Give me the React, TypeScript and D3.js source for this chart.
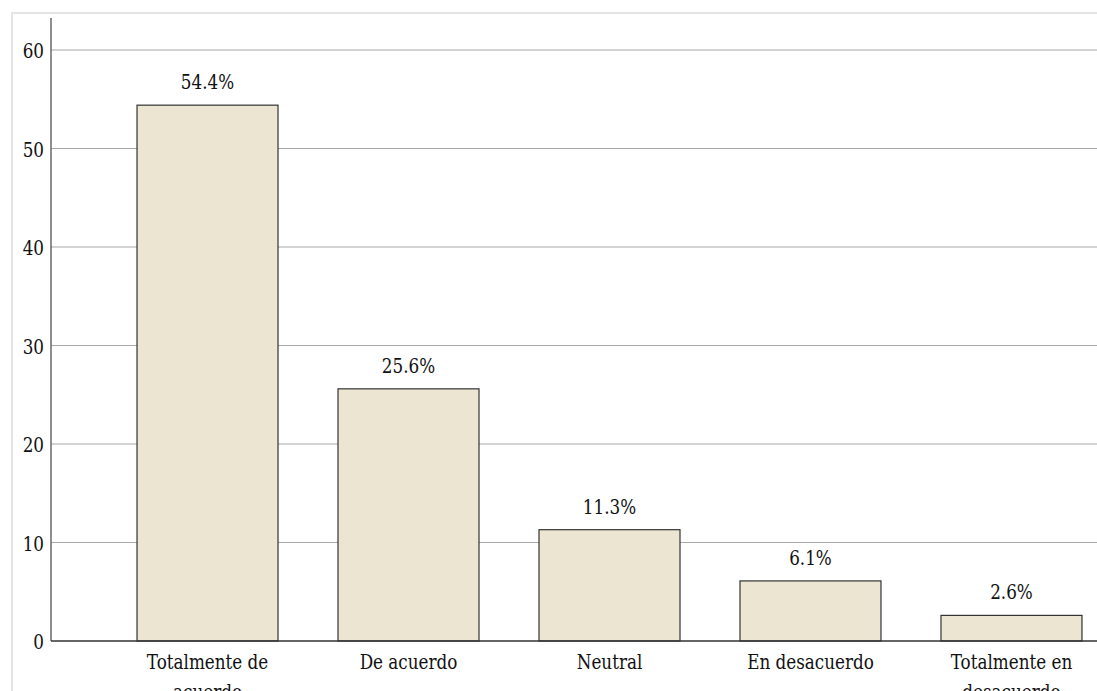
import React from "react";
import * as d3 from "d3";

const categories = [
  ["Totalmente de", "acuerdo"],
  ["De acuerdo"],
  ["Neutral"],
  ["En desacuerdo"],
  ["Totalmente en", "desacuerdo"],
];
const values = [54.4, 25.6, 11.3, 6.1, 2.6];
const valueLabels = ["54.4%", "25.6%", "11.3%", "6.1%", "2.6%"];
const yTicks = [0, 10, 20, 30, 40, 50, 60];

const W = 1097;
const H = 691;
const FONT = "'DejaVu Serif', serif";

export default function App() {
  const x0 = 51;
  const y = d3.scaleLinear().domain([0, 60]).range([641, 50]);
  const keys = categories.map((c) => c.join(" "));
  const x = d3
    .scaleBand<string>()
    .domain(keys)
    .range([x0, 1168])
    .paddingInner(0.2985)
    .paddingOuter(0.428);

  const txt = (cx: number, cy: number, s: string, anchor: string, key?: any) => (
    <g key={key} transform={`translate(${cx},${cy}) scale(0.8,1)`}>
      <text
        x={0}
        y={0}
        textAnchor={anchor}
        style={{ fontFamily: FONT, fontSize: "21px" }}
        fill="#111"
      >
        {s}
      </text>
    </g>
  );

  return (
    <svg
      width={W}
      height={H}
      style={{ position: "absolute", left: 0, top: 0, background: "#fff" }}
    >
      <rect x={12} y={13} width={W} height={H} fill="none" stroke="#e4e4e4" strokeWidth={2} />
      {yTicks
        .filter((t) => t > 0)
        .map((t) => (
          <line key={t} x1={x0} x2={W} y1={y(t)} y2={y(t)} stroke="#a8a8a8" strokeWidth={1.2} />
        ))}
      {values.map((v, i) => (
        <rect
          key={i}
          x={x(keys[i])!}
          y={y(v)}
          width={x.bandwidth()}
          height={y(0) - y(v)}
          fill="#ebe5d1"
          stroke="#333"
          strokeWidth={1.2}
        />
      ))}
      <line x1={x0} x2={x0} y1={y(63.25)} y2={y(0)} stroke="#444" strokeWidth={1.2} />
      <line x1={x0} x2={W} y1={y(0)} y2={y(0)} stroke="#333" strokeWidth={1.4} />
      {yTicks.map((t) => txt(x0 - 7, y(t) + 8, String(t), "end", "t" + t))}
      {values.map((v, i) =>
        txt(x(keys[i])! + x.bandwidth() / 2, y(v) - 16, valueLabels[i], "middle", "v" + i)
      )}
      {categories.map((lines, i) =>
        lines.map((l, j) =>
          txt(x(keys[i])! + x.bandwidth() / 2, 669 + j * 30, l, "middle", `c${i}-${j}`)
        )
      )}
    </svg>
  );
}
